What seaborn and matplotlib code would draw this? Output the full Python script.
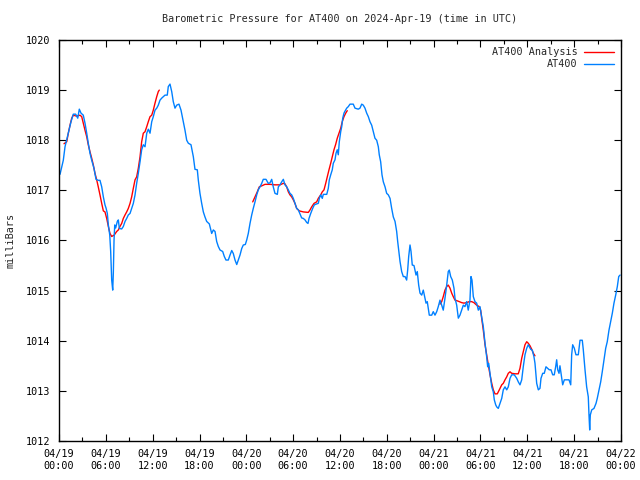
import pandas as pd
import numpy as np
import matplotlib
matplotlib.use('Agg')
import matplotlib.pyplot as plt
import matplotlib.dates as mdates
import seaborn as sns

sns.set_style('ticks')
plt.rcParams['font.family'] = ['DejaVu Sans Mono']

start = pd.Timestamp('2024-04-19 00:00')

# AT400 observations: hours since 04/19 00:00 UTC, pressure in milliBars
obs_hours = [0.13, 0.55, 0.77, 1.19, 1.54, 1.83, 2.14, 2.40, 2.60, 2.82, 3.11, 3.33, 3.55, 3.75, 3.97,
             4.19, 4.48, 4.74, 5.03, 5.25, 5.47, 5.68, 5.89, 6.02, 6.19, 6.32, 6.50, 6.62, 6.75, 6.88,
             6.96, 7.05, 7.14, 7.26, 7.47, 7.60, 7.73, 8.03, 8.24, 8.46, 8.67, 8.88, 9.10, 9.31, 9.52,
             9.74, 9.95, 10.16, 10.38, 10.59, 10.80, 11.02, 11.24, 11.44, 11.66, 11.88, 12.08, 12.30,
             12.52, 12.72, 12.94, 13.16, 13.58, 13.87, 14.00, 14.22, 14.44, 14.64, 14.86, 15.08, 15.37,
             15.63, 15.92, 16.14, 16.36, 16.57, 16.91, 17.21, 17.42, 17.72, 17.85, 18.06, 18.28, 18.49,
             18.70, 18.92, 19.26, 19.56, 19.77, 19.99, 20.20, 20.41, 20.63, 20.97, 21.18, 21.39, 21.69,
             21.91, 22.13, 22.33, 22.55, 22.77, 22.97, 23.19, 23.41, 23.61, 23.87, 24.05, 24.25, 24.47,
             24.69, 24.89, 25.11, 25.33, 25.53, 25.75, 25.97, 26.17, 26.52, 26.81, 27.03, 27.25, 27.45,
             27.67, 27.97, 28.10, 28.31, 28.53, 28.74, 28.95, 29.17, 29.38, 29.59, 29.81, 30.02, 30.23,
             30.45, 30.66, 30.88, 31.09, 31.30, 31.52, 31.73, 31.90, 32.03, 32.25, 32.50, 32.71, 33.01,
             33.22, 33.35, 33.53, 33.73, 33.86, 34.30, 34.50, 34.63, 34.81, 35.01, 35.14, 35.36, 35.49,
             35.65, 35.78, 35.91, 36.09, 36.22, 36.35, 36.51, 36.64, 36.86, 37.06, 37.28, 37.70, 37.92,
             38.34, 38.56, 38.78, 38.98, 39.20, 39.42, 39.63, 39.84, 40.06, 40.27, 40.48, 40.70, 40.91,
             41.03, 41.21, 41.38, 41.55, 41.77, 41.98, 42.19, 42.41, 42.62, 42.83, 43.05, 43.26, 43.39,
             43.52, 43.69, 43.90, 44.11, 44.33, 44.54, 44.67, 44.80, 44.97, 45.10, 45.26, 45.48, 45.61,
             45.74, 45.90, 46.08, 46.25, 46.47, 46.67, 46.80, 47.02, 47.18, 47.44, 47.75, 47.95, 48.17,
             48.39, 48.59, 48.81, 49.03, 49.23, 49.45, 49.67, 49.87, 50.00, 50.18, 50.39, 50.60, 50.73,
             50.95, 51.16, 51.37, 51.59, 51.80, 52.01, 52.23, 52.43, 52.65, 52.78, 52.91, 53.08, 53.29,
             53.51, 53.72, 53.93, 54.15, 54.36, 54.58, 54.79, 54.92, 55.05, 55.22, 55.44, 55.64, 55.77,
             55.95, 56.08, 56.28, 56.50, 56.72, 56.92, 57.14, 57.36, 57.56, 57.78, 58.00, 58.33, 58.64,
             58.84, 59.06, 59.28, 59.48, 59.70, 59.92, 60.12, 60.43, 60.64, 60.85, 60.98, 61.20, 61.41,
             61.62, 61.75, 61.97, 62.17, 62.39, 62.61, 62.81, 63.03, 63.25, 63.45, 63.63, 63.76, 63.89,
             64.06, 64.18, 64.35, 64.53, 64.74, 65.34, 65.56, 65.68, 65.81, 66.02, 66.23, 66.53, 66.75,
             67.04, 67.17, 67.39, 67.60, 67.81, 67.90, 67.99, 68.07, 68.25, 68.54, 68.80, 68.96, 69.18,
             69.40, 69.60, 69.82, 70.04, 70.24, 70.46, 70.68, 70.89, 71.10, 71.32, 71.53, 71.71, 71.88]
obs_press = [1017.32, 1017.60, 1017.87, 1018.14, 1018.37, 1018.52, 1018.52, 1018.44, 1018.62, 1018.54,
             1018.50, 1018.34, 1018.14, 1017.94, 1017.74, 1017.60, 1017.44, 1017.22, 1017.20, 1017.20,
             1017.07, 1016.87, 1016.71, 1016.65, 1016.54, 1016.31, 1016.11, 1015.78, 1015.21, 1015.01,
             1015.35, 1016.01, 1016.31, 1016.25, 1016.38, 1016.41, 1016.24, 1016.23, 1016.28, 1016.38,
             1016.44, 1016.51, 1016.54, 1016.64, 1016.74, 1016.91, 1017.14, 1017.34, 1017.57, 1017.81,
             1017.91, 1017.87, 1018.14, 1018.22, 1018.14, 1018.37, 1018.47, 1018.60, 1018.64, 1018.70,
             1018.80, 1018.84, 1018.90, 1018.90, 1019.07, 1019.12, 1018.97, 1018.77, 1018.64, 1018.70,
             1018.72, 1018.60, 1018.37, 1018.20, 1018.00, 1017.94, 1017.91, 1017.67, 1017.42, 1017.41,
             1017.20, 1016.94, 1016.74, 1016.57, 1016.47, 1016.38, 1016.33, 1016.14, 1016.21, 1016.18,
             1015.98, 1015.88, 1015.81, 1015.78, 1015.68, 1015.61, 1015.61, 1015.71, 1015.80, 1015.74,
             1015.61, 1015.52, 1015.61, 1015.71, 1015.84, 1015.91, 1015.92, 1016.01, 1016.14, 1016.34,
             1016.51, 1016.64, 1016.77, 1016.91, 1017.01, 1017.07, 1017.14, 1017.22, 1017.22, 1017.14,
             1017.15, 1017.22, 1017.07, 1016.94, 1016.92, 1017.07, 1017.11, 1017.17, 1017.22, 1017.11,
             1017.07, 1017.01, 1016.94, 1016.91, 1016.84, 1016.74, 1016.64, 1016.61, 1016.53, 1016.45,
             1016.44, 1016.41, 1016.36, 1016.34, 1016.44, 1016.54, 1016.64, 1016.71, 1016.73, 1016.74,
             1016.84, 1016.91, 1016.84, 1016.92, 1016.92, 1017.04, 1017.21, 1017.31, 1017.41, 1017.54,
             1017.61, 1017.74, 1017.81, 1017.71, 1017.97, 1018.17, 1018.27, 1018.44, 1018.54, 1018.58,
             1018.64, 1018.67, 1018.72, 1018.72, 1018.64, 1018.62, 1018.64, 1018.72, 1018.70, 1018.64,
             1018.54, 1018.47, 1018.37, 1018.30, 1018.17, 1018.04, 1018.00, 1017.87, 1017.71, 1017.57,
             1017.31, 1017.17, 1017.07, 1016.94, 1016.91, 1016.84, 1016.64, 1016.47, 1016.38, 1016.18,
             1015.98, 1015.81, 1015.58, 1015.38, 1015.28, 1015.28, 1015.21, 1015.41, 1015.68, 1015.91,
             1015.78, 1015.51, 1015.50, 1015.41, 1015.31, 1015.38, 1015.11, 1014.95, 1014.91, 1015.01,
             1014.91, 1014.75, 1014.78, 1014.51, 1014.51, 1014.58, 1014.51, 1014.58, 1014.68, 1014.81,
             1014.71, 1014.61, 1014.85, 1015.11, 1015.38, 1015.41, 1015.28, 1015.21, 1015.05, 1014.85,
             1014.71, 1014.45, 1014.51, 1014.61, 1014.71, 1014.68, 1014.78, 1014.61, 1014.81, 1015.28,
             1015.21, 1014.88, 1014.78, 1014.75, 1014.61, 1014.68, 1014.48, 1014.28, 1013.95, 1013.68,
             1013.48, 1013.55, 1013.35, 1013.08, 1012.98, 1012.82, 1012.72, 1012.68, 1012.65, 1012.75,
             1012.85, 1013.02, 1013.08, 1013.02, 1013.08, 1013.25, 1013.32, 1013.32, 1013.25, 1013.18,
             1013.12, 1013.22, 1013.48, 1013.72, 1013.85, 1013.92, 1013.83, 1013.81, 1013.68, 1013.55,
             1013.15, 1013.02, 1013.05, 1013.25, 1013.35, 1013.35, 1013.48, 1013.45, 1013.42, 1013.42,
             1013.32, 1013.32, 1013.48, 1013.62, 1013.42, 1013.35, 1013.50, 1013.32, 1013.12, 1013.22,
             1013.22, 1013.12, 1013.72, 1013.92, 1013.85, 1013.72, 1013.72, 1014.01, 1014.01, 1013.82,
             1013.42, 1013.08, 1012.88, 1012.52, 1012.22, 1012.52, 1012.62, 1012.65, 1012.75, 1012.85,
             1013.02, 1013.18, 1013.38, 1013.62, 1013.85, 1013.98, 1014.21, 1014.38, 1014.55, 1014.75,
             1014.91, 1015.08, 1015.28, 1015.31]

# AT400 analysis, three separate runs
ana1_hours = [0.64, 0.99, 1.19, 1.41, 1.63, 1.83, 2.27, 2.69, 2.91, 3.11, 3.33, 3.55, 3.75, 3.97, 4.19,
              4.39, 4.61, 4.83, 5.03, 5.25, 5.47, 5.68, 5.89, 6.11, 6.32, 6.53, 6.75, 7.08, 7.39, 7.60,
              7.81, 8.03, 8.24, 8.46, 8.67, 8.88, 9.10, 9.31, 9.52, 9.74, 9.95, 10.16, 10.38, 10.59,
              10.80, 11.02, 11.24, 11.44, 11.66, 11.88, 12.08, 12.30, 12.52, 12.72, 12.85]
ana1_press = [1017.93, 1017.97, 1018.14, 1018.30, 1018.44, 1018.50, 1018.48, 1018.50, 1018.47, 1018.34,
              1018.20, 1018.07, 1017.91, 1017.77, 1017.64, 1017.51, 1017.34, 1017.21, 1017.07, 1016.91,
              1016.74, 1016.59, 1016.57, 1016.44, 1016.28, 1016.14, 1016.08, 1016.11, 1016.18, 1016.21,
              1016.28, 1016.34, 1016.44, 1016.51, 1016.57, 1016.64, 1016.74, 1016.87, 1017.04, 1017.21,
              1017.27, 1017.44, 1017.67, 1017.97, 1018.14, 1018.17, 1018.27, 1018.37, 1018.47, 1018.50,
              1018.60, 1018.74, 1018.87, 1018.97, 1019.00]
ana2_hours = [24.82, 25.11, 25.40, 25.66, 25.97, 26.39, 27.03, 27.67, 28.31, 28.74, 28.95, 29.17, 29.38,
              29.59, 29.81, 30.02, 30.23, 30.45, 30.79, 31.30, 31.94, 32.16, 32.37, 32.67, 33.01, 33.22,
              33.53, 33.73, 33.95, 34.17, 34.37, 34.59, 34.81, 35.01, 35.23, 35.45, 35.65, 35.87, 36.09,
              36.29, 36.51, 36.73, 36.93]
ana2_press = [1016.77, 1016.87, 1016.97, 1017.07, 1017.09, 1017.12, 1017.12, 1017.11, 1017.11, 1017.14,
              1017.13, 1017.07, 1016.97, 1016.91, 1016.87, 1016.81, 1016.74, 1016.64, 1016.59, 1016.57,
              1016.56, 1016.61, 1016.67, 1016.74, 1016.77, 1016.84, 1016.91, 1016.97, 1017.01, 1017.14,
              1017.27, 1017.41, 1017.54, 1017.67, 1017.81, 1017.92, 1018.04, 1018.14, 1018.24, 1018.37,
              1018.47, 1018.54, 1018.59]
ana3_hours = [48.81, 49.03, 49.23, 49.45, 49.67, 49.87, 50.09, 50.31, 50.51, 50.73, 50.95, 51.28, 51.59,
              51.88, 52.23, 52.56, 52.87, 53.16, 53.51, 53.85, 54.02, 54.15, 54.36, 54.58, 54.79, 55.00,
              55.22, 55.44, 55.64, 55.86, 56.15, 56.41, 56.72, 56.92, 57.14, 57.36, 57.56, 57.78, 58.00,
              58.42, 58.84, 59.06, 59.28, 59.48, 59.70, 59.92, 60.12, 60.34, 60.56, 60.77, 60.98]
ana3_press = [1014.73, 1014.78, 1014.88, 1015.01, 1015.08, 1015.11, 1015.05, 1014.95, 1014.88, 1014.81,
              1014.80, 1014.78, 1014.76, 1014.75, 1014.76, 1014.78, 1014.78, 1014.76, 1014.71, 1014.68,
              1014.61, 1014.45, 1014.21, 1013.92, 1013.72, 1013.52, 1013.32, 1013.15, 1013.02, 1012.94,
              1012.94, 1013.02, 1013.12, 1013.15, 1013.22, 1013.28, 1013.35, 1013.38, 1013.35, 1013.34,
              1013.34, 1013.45, 1013.65, 1013.78, 1013.92, 1013.98, 1013.95, 1013.90, 1013.83, 1013.75,
              1013.70]


def to_time(hours):
    return start + pd.to_timedelta(np.array(hours), unit='h')


fig = plt.figure(figsize=(6.4, 4.8), dpi=100)
ax = fig.add_axes([0.0922, 0.0813, 0.8781, 0.8354])

fs = 7.3
red = '#ff0000'
blue = '#0080ff'

segs = [(ana1_hours, ana1_press), (ana2_hours, ana2_press), (ana3_hours, ana3_press)]
for i, (h, p) in enumerate(segs):
    sns.lineplot(x=to_time(h), y=p, color=red, linewidth=1.0, ax=ax,
                 label='AT400 Analysis' if i == 0 else None)
sns.lineplot(x=to_time(obs_hours), y=obs_press, color=blue, linewidth=1.0, ax=ax, label='AT400')

ax.set_xlim(start, start + pd.Timedelta(hours=72))
ax.set_ylim(1012, 1020)
ax.set_yticks(range(1012, 1021))
ax.xaxis.set_major_locator(mdates.HourLocator(byhour=range(0, 24, 6)))
ax.xaxis.set_minor_locator(mdates.HourLocator(byhour=range(3, 24, 6)))
ax.xaxis.set_major_formatter(mdates.DateFormatter('%m/%d\n%H:%M'))

ax.tick_params(which='both', direction='in', top=True, right=True, labelsize=fs, colors='black')
ax.tick_params(which='major', length=5, width=0.8, pad=6)
ax.tick_params(which='minor', length=3, width=0.8)
for s in ax.spines.values():
    s.set_visible(True)
    s.set_color('black')
    s.set_linewidth(1.0)

ax.set_title('Barometric Pressure for AT400 on 2024-Apr-19 (time in UTC)', fontsize=fs, pad=13)
ax.set_ylabel('milliBars', fontsize=fs, labelpad=8)
ax.set_xlabel('')

ax.legend(loc='upper right', frameon=False, fontsize=fs, markerfirst=False,
          handlelength=2.9, handletextpad=0.7, labelspacing=0.2, borderaxespad=0.3)

fig.savefig('out.png', dpi=100)
